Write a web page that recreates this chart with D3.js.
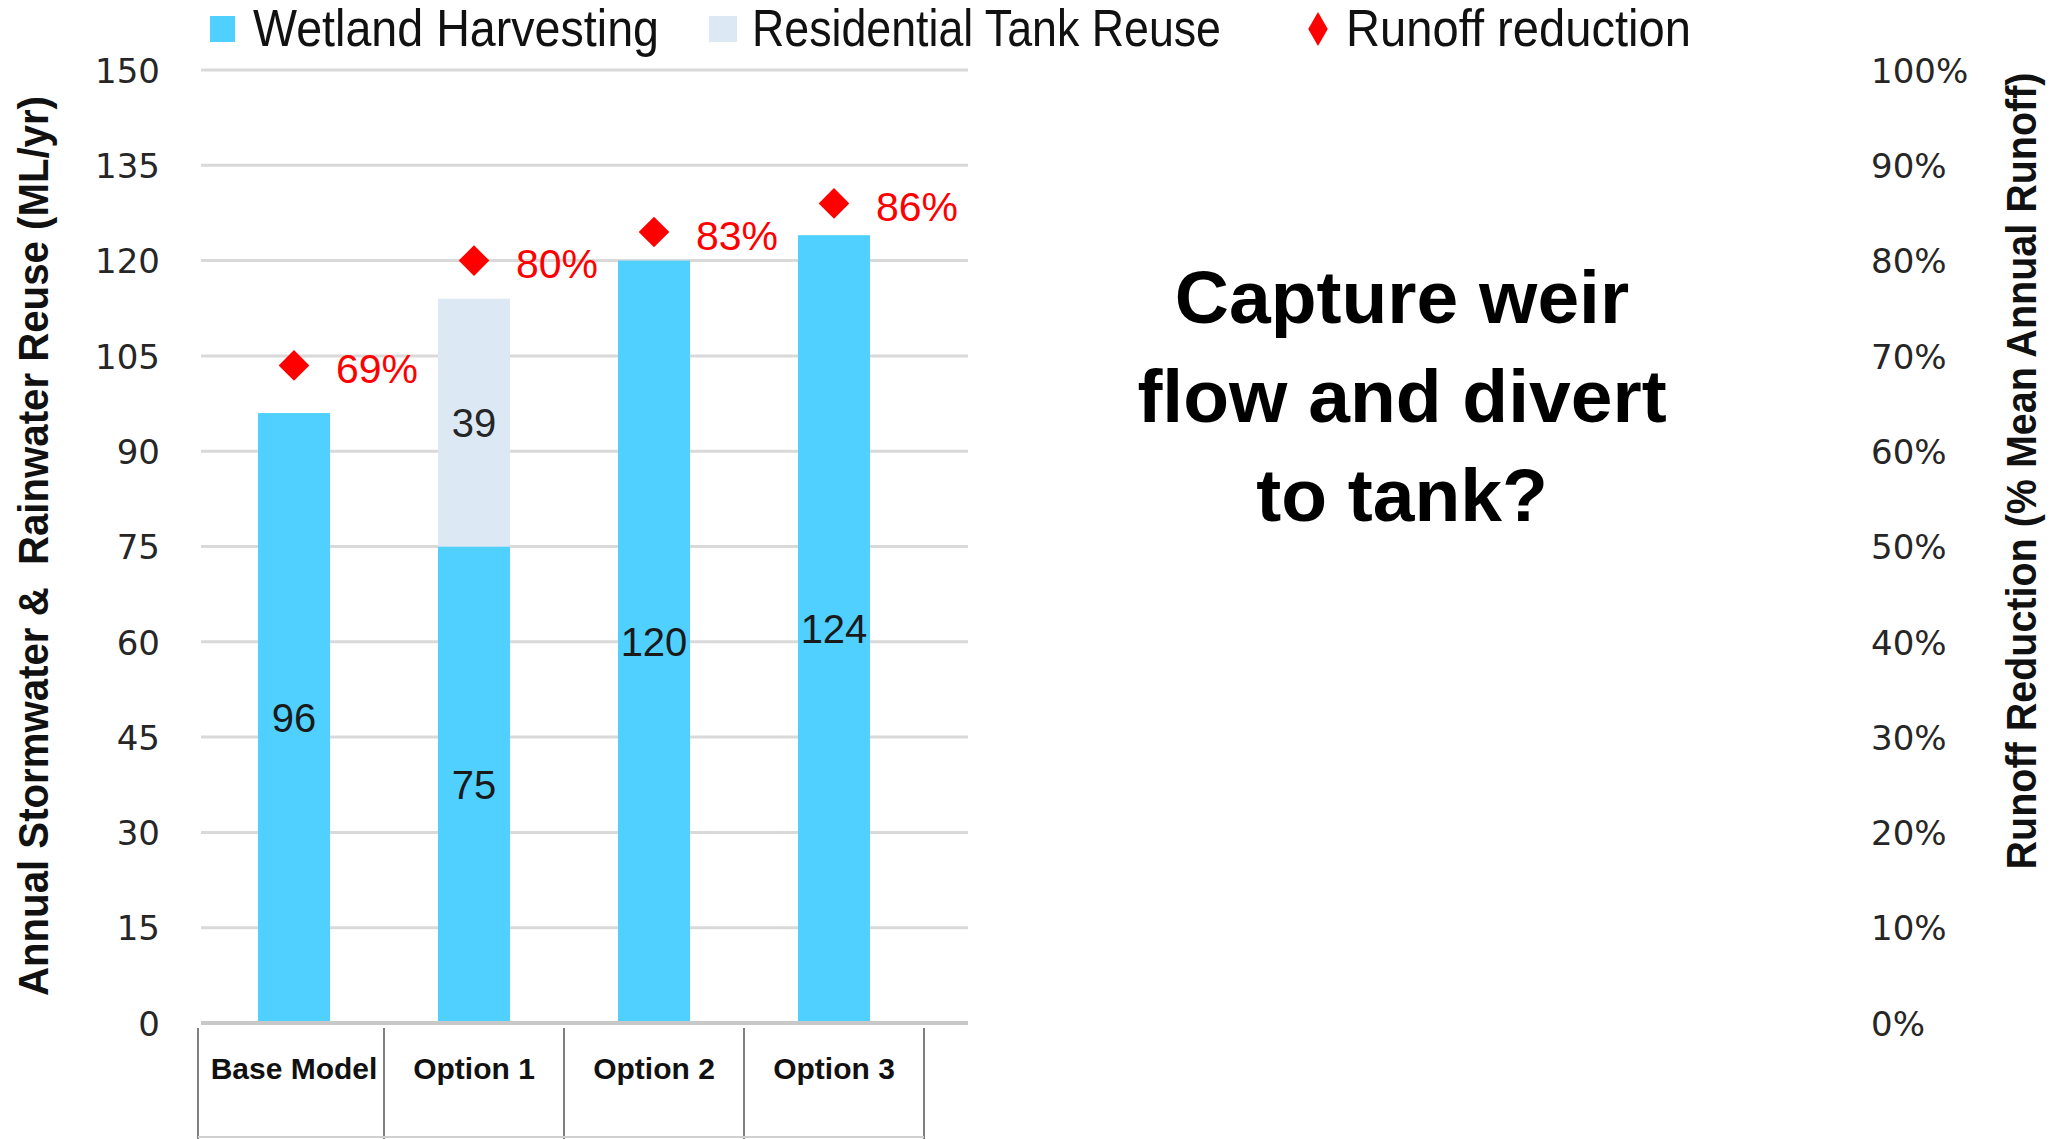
<!DOCTYPE html>
<html><head><meta charset="utf-8">
<script src="https://cdn.jsdelivr.net/npm/d3@7"></script>
<style>html,body{margin:0;padding:0;background:#fff;}svg{display:block;}</style>
</head><body>
<svg id="chart" width="2059" height="1139"></svg>
<script>
const categories = ["Base Model", "Option 1", "Option 2", "Option 3"];
const wetland = [96, 75, 120, 124];
const tank = [0, 39, 0, 0];
const runoff = [0.69, 0.80, 0.83, 0.86];
const leftTicks = [0, 15, 30, 45, 60, 75, 90, 105, 120, 135, 150];
const rightTicks = [0, 0.1, 0.2, 0.3, 0.4, 0.5, 0.6, 0.7, 0.8, 0.9, 1.0];
const seriesNames = ["Wetland Harvesting", "Residential Tank Reuse", "Runoff reduction"];
const leftTitle = "Annual Stormwater &  Rainwater Reuse (ML/yr)";
const rightTitle = "Runoff Reduction (% Mean Annual Runoff)";
const noteLines = ["Capture weir", "flow and divert", "to tank?"];

const C_WET = "#4fd0ff", C_TANK = "#dde8f5", C_RED = "#ff0000";
const NARROW = "Liberation Sans, Arial, sans-serif";
const svg = d3.select("#chart");
svg.append("rect").attr("width", 2059).attr("height", 1139).attr("fill", "#fff");

const x = d3.scaleBand().domain(categories).range([204, 924]).paddingInner(0.6).paddingOuter(0.3);
const y = d3.scaleLinear().domain([0, 150]).range([1023, 70]);
const y2 = d3.scaleLinear().domain([0, 1]).range([1023, 70]);
const gridX0 = 201, gridX1 = 968;

// gridlines
svg.append("g").selectAll("line").data(leftTicks.filter(d => d > 0)).join("line")
  .attr("x1", gridX0).attr("x2", gridX1)
  .attr("y1", d => y(d)).attr("y2", d => y(d))
  .attr("stroke", "#d9d9d9").attr("stroke-width", 3);

// left axis labels
const leftAxis = d3.axisLeft(y).tickValues(leftTicks).tickSize(0).tickPadding(0).tickFormat(d3.format("d"));
const gl = svg.append("g").attr("transform", "translate(160,0)").call(leftAxis);
gl.select(".domain").remove();
gl.selectAll("text").attr("font-family", "DejaVu Sans").attr("font-size", 34).attr("fill", "#262626").attr("dy", "0.36em");

// right axis labels
const rightAxis = d3.axisRight(y2).tickValues(rightTicks).tickSize(0).tickPadding(0).tickFormat(d3.format(".0%"));
const gr = svg.append("g").attr("transform", "translate(1871,0)").call(rightAxis);
gr.select(".domain").remove();
gr.selectAll("text").attr("font-family", "DejaVu Sans").attr("font-size", 34).attr("fill", "#262626").attr("dy", "0.36em");

// bars
const stack = categories.map((c, i) => ({c, w: wetland[i], t: tank[i]}));
svg.append("g").selectAll("rect").data(stack).join("rect")
  .attr("x", d => x(d.c)).attr("width", x.bandwidth())
  .attr("y", d => y(d.w)).attr("height", d => y(0) - y(d.w))
  .attr("fill", C_WET);
svg.append("g").selectAll("rect").data(stack.filter(d => d.t > 0)).join("rect")
  .attr("x", d => x(d.c)).attr("width", x.bandwidth())
  .attr("y", d => y(d.w + d.t)).attr("height", d => y(d.w) - y(d.w + d.t))
  .attr("fill", C_TANK);

// zero line
svg.append("line").attr("x1", gridX0).attr("x2", gridX1).attr("y1", y(0)).attr("y2", y(0))
  .attr("stroke", "#c8c8c8").attr("stroke-width", 4);

// bar value labels
const cx = d => x(d) + x.bandwidth() / 2;
svg.append("g").selectAll("text").data(stack).join("text")
  .attr("x", d => cx(d.c)).attr("y", d => y(d.w / 2)).attr("dy", "0.35em")
  .attr("text-anchor", "middle").attr("font-family", "Liberation Sans").attr("font-size", 40)
  .attr("fill", "#1a1a1a").text(d => d.w);
svg.append("g").selectAll("text").data(stack.filter(d => d.t > 0)).join("text")
  .attr("x", d => cx(d.c)).attr("y", d => y(d.w + d.t / 2)).attr("dy", "0.35em")
  .attr("text-anchor", "middle").attr("font-family", "Liberation Sans").attr("font-size", 40)
  .attr("fill", "#262626").text(d => d.t);

// runoff diamonds
const diamond = d3.symbol().type(d3.symbolSquare).size(470);
svg.append("g").selectAll("path").data(categories).join("path")
  .attr("d", diamond)
  .attr("transform", (d, i) => `translate(${cx(d)},${y2(runoff[i])}) rotate(45)`)
  .attr("fill", C_RED);
svg.append("g").selectAll("text").data(categories).join("text")
  .attr("x", d => cx(d) + 42).attr("y", (d, i) => y2(runoff[i]) + 3).attr("dy", "0.36em")
  .attr("font-family", "Liberation Sans").attr("font-size", 41).attr("fill", C_RED)
  .text((d, i) => d3.format(".0%")(runoff[i]));

// category boxes
const step = x.step();
const bounds = categories.map(d => cx(d) - step / 2).concat([cx(categories[categories.length - 1]) + step / 2]);
bounds[0] -= 6;
svg.append("g").selectAll("line").data(bounds).join("line")
  .attr("x1", d => d).attr("x2", d => d).attr("y1", 1028).attr("y2", 1139)
  .attr("stroke", "#555").attr("stroke-width", 1.5);
svg.append("line").attr("x1", bounds[0]).attr("x2", bounds[bounds.length - 1]).attr("y1", 1137).attr("y2", 1137)
  .attr("stroke", "#d0d0d0").attr("stroke-width", 2);
svg.append("g").selectAll("text").data(categories).join("text")
  .attr("x", d => cx(d)).attr("y", 1079).attr("text-anchor", "middle")
  .attr("font-family", "Liberation Sans").attr("font-weight", "bold").attr("font-size", 30)
  .attr("fill", "#111").text(d => d);

// axis titles
svg.append("text").attr("transform", "translate(48,546) rotate(-90)")
  .attr("text-anchor", "middle").attr("font-family", NARROW).attr("font-weight", "bold")
  .attr("font-size", 43).attr("fill", "#111")
  .attr("textLength", 900).attr("lengthAdjust", "spacingAndGlyphs")
  .style("white-space", "pre").text(leftTitle);
svg.append("text").attr("transform", "translate(2036,471) rotate(-90)")
  .attr("text-anchor", "middle").attr("font-family", NARROW).attr("font-weight", "bold")
  .attr("font-size", 43).attr("fill", "#111")
  .attr("textLength", 797).attr("lengthAdjust", "spacingAndGlyphs")
  .text(rightTitle);

// legend
const lg = svg.append("g");
lg.append("rect").attr("x", 210).attr("y", 16).attr("width", 25).attr("height", 26).attr("fill", C_WET);
lg.append("text").attr("x", 253).attr("y", 46).attr("font-family", NARROW).attr("font-size", 52)
  .attr("fill", "#111").attr("textLength", 406).attr("lengthAdjust", "spacingAndGlyphs").text(seriesNames[0]);
lg.append("rect").attr("x", 709).attr("y", 16).attr("width", 28).attr("height", 26).attr("fill", C_TANK);
lg.append("text").attr("x", 752).attr("y", 46).attr("font-family", NARROW).attr("font-size", 52)
  .attr("fill", "#111").attr("textLength", 469).attr("lengthAdjust", "spacingAndGlyphs").text(seriesNames[1]);
lg.append("path").attr("d", d3.symbol().type(d3.symbolDiamond).size(330))
  .attr("transform", "translate(1318,29)").attr("fill", C_RED);
lg.append("text").attr("x", 1346).attr("y", 46).attr("font-family", NARROW).attr("font-size", 52)
  .attr("fill", "#111").attr("textLength", 345).attr("lengthAdjust", "spacingAndGlyphs").text(seriesNames[2]);

// annotation
svg.append("g").selectAll("text").data(noteLines).join("text")
  .attr("x", 1402).attr("y", (d, i) => 323 + i * 99).attr("text-anchor", "middle")
  .attr("font-family", "Liberation Sans").attr("font-weight", "bold").attr("font-size", 75)
  .attr("fill", "#000").text(d => d);
</script>
</body></html>
